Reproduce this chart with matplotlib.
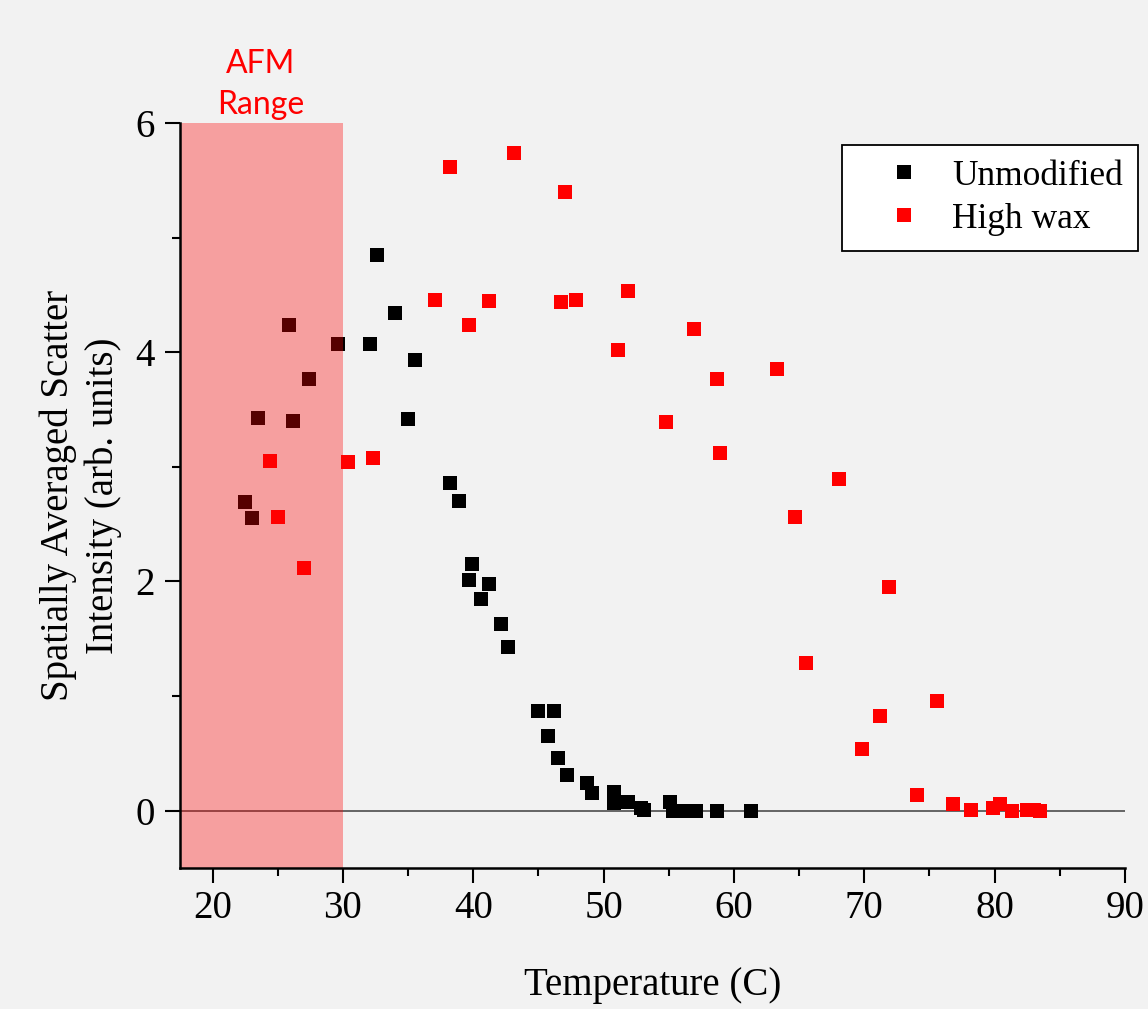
import matplotlib
matplotlib.use("Agg")
import matplotlib.pyplot as plt
from matplotlib.patches import Rectangle
from matplotlib.ticker import MultipleLocator

# ---------------- data ----------------
unmod_x = [22.5, 23.0, 23.5, 25.9, 26.2, 27.4, 29.6, 32.1, 32.65, 34.0,
           35.0, 35.5, 38.25, 38.9, 39.9, 39.7, 41.2, 40.6, 42.1, 42.65,
           45.0, 46.2, 45.7, 46.5, 47.2, 48.7, 49.1, 50.8, 50.8, 51.9,
           52.9, 53.1, 55.1, 55.3, 55.9, 56.5, 57.1, 58.7, 61.3]
unmod_y = [2.69, 2.55, 3.43, 4.24, 3.40, 3.77, 4.07, 4.07, 4.85, 4.34,
           3.42, 3.93, 2.86, 2.70, 2.15, 2.01, 1.98, 1.85, 1.63, 1.43,
           0.87, 0.87, 0.65, 0.46, 0.31, 0.24, 0.15, 0.16, 0.07, 0.08,
           0.02, 0.01, 0.08, 0.0, 0.0, 0.0, 0.0, 0.0, 0.0]

wax_x = [24.4, 25.0, 27.0, 30.4, 32.3, 37.05, 38.25, 39.7, 41.2, 43.1,
         46.7, 47.05, 47.9, 51.1, 51.9, 54.8, 56.9, 58.7, 58.9, 63.3,
         64.65, 65.5, 68.05, 69.8, 71.2, 71.9, 74.05, 75.6, 76.8, 78.15,
         79.9, 80.4, 81.3, 82.5, 83.0, 83.5]
wax_y = [3.05, 2.56, 2.12, 3.04, 3.08, 4.46, 5.62, 4.24, 4.45, 5.74,
         4.44, 5.40, 4.46, 4.02, 4.53, 3.39, 4.20, 3.77, 3.12, 3.85,
         2.56, 1.29, 2.89, 0.54, 0.83, 1.95, 0.14, 0.96, 0.06, 0.01,
         0.02, 0.06, 0.0, 0.01, 0.01, 0.0]

series_labels = ["Unmodified", "High wax"]
afm_range = (17.5, 30.0)
x_ticks = [20, 30, 40, 50, 60, 70, 80, 90]
y_ticks = [0, 2, 4, 6]

# ---------------- figure ----------------
W, H = 1148, 1009
bg = "#F2F2F2"
fig = plt.figure(figsize=(W / 100, H / 100), dpi=100, facecolor=bg)
ax = fig.add_axes([180 / W, 141 / H, 945 / W, 745 / H], facecolor=bg)

serif = "Liberation Serif"

ax.axhline(0, color="#5a5a5a", lw=1.3, zorder=1.5)
ax.plot(unmod_x, unmod_y, ls="none", marker="s", ms=10.3, mew=0,
        color="black", label=series_labels[0], zorder=2)
ax.plot(wax_x, wax_y, ls="none", marker="s", ms=10.3, mew=0,
        color="#FF0000", label=series_labels[1], zorder=2)

ax.add_patch(Rectangle((afm_range[0], -0.5), afm_range[1] - afm_range[0], 6.5,
                       facecolor="#FF0000", alpha=0.34, edgecolor="none",
                       zorder=3))

ax.set_xlim(17.5, 90)
ax.set_ylim(-0.5, 6)
ax.set_xticks(x_ticks)
ax.set_yticks(y_ticks)
ax.xaxis.set_minor_locator(MultipleLocator(5))
ax.yaxis.set_minor_locator(MultipleLocator(1))

for s in ["top", "right"]:
    ax.spines[s].set_visible(False)
for s in ["left", "bottom"]:
    ax.spines[s].set_linewidth(1.8)
    ax.spines[s].set_zorder(4)

ax.tick_params(which="major", direction="out", length=11, width=1.5,
               labelsize=28, pad=5)
ax.tick_params(which="minor", direction="out", length=5.5, width=1.5)
ax.tick_params(axis="y", which="major", pad=7)
for lab in ax.get_xticklabels() + ax.get_yticklabels():
    lab.set_fontfamily(serif)

ax.set_xlabel("Temperature (C)", fontsize=28, fontfamily=serif, labelpad=29)
ax.set_ylabel("Spatially Averaged Scatter\nIntensity (arb. units)",
              fontsize=28, fontfamily=serif, labelpad=10, linespacing=1.25)

ax.text(23.7, 6.44, "AFM", color="#FF0000", fontsize=23, fontfamily="Lato",
        ha="center", va="baseline", clip_on=False)
ax.text(23.7, 6.08, "Range", color="#FF0000", fontsize=23, fontfamily="Lato",
        ha="center", va="baseline", clip_on=False)

leg = ax.legend(loc="upper left", bbox_to_anchor=(842 / W, 1 - 145 / H),
                bbox_transform=fig.transFigure, borderaxespad=0,
                prop={"family": serif, "size": 25.5}, frameon=True,
                fancybox=False, framealpha=1, edgecolor="black",
                facecolor="white", borderpad=0.42, handlelength=2.66,
                handletextpad=0.04, labelspacing=0.28, numpoints=1)
leg.get_frame().set_linewidth(1.3)
leg.set_zorder(10)

fig.savefig("out.png", dpi=100, facecolor=bg)
